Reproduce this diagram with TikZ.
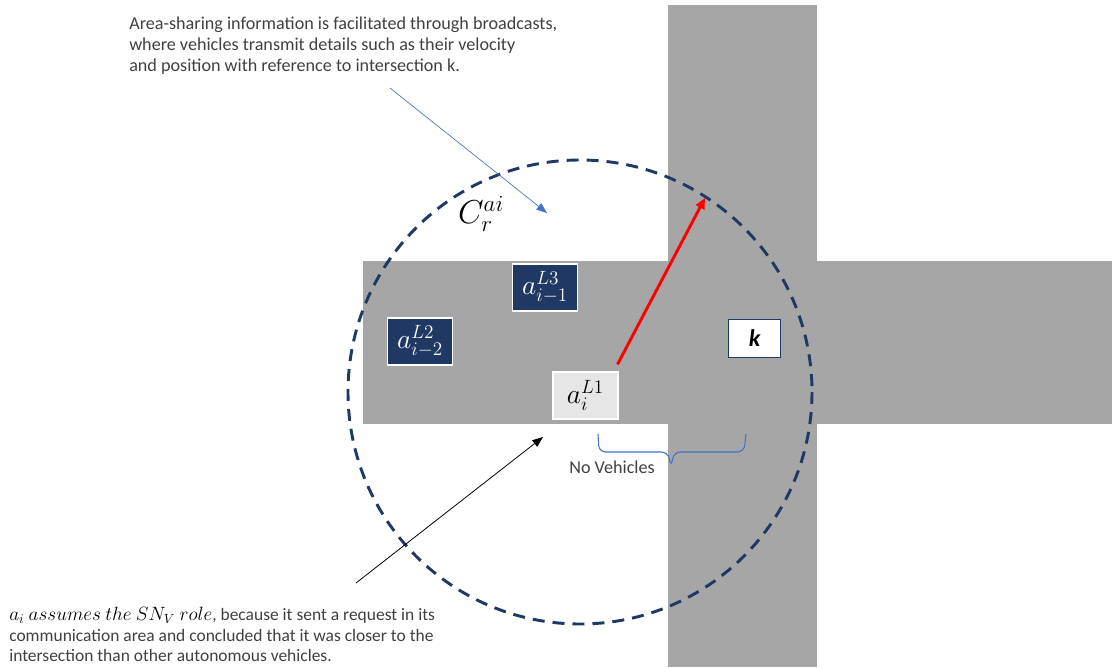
\documentclass[tikz,border=0pt]{standalone}
\usepackage{amsmath}
\usepackage{fontspec}
\setmainfont{Carlito}
\usetikzlibrary{arrows.meta,positioning}
\definecolor{road}{HTML}{A6A6A6}
\definecolor{navy}{HTML}{203864}
\definecolor{ink}{HTML}{404040}
\definecolor{note}{HTML}{4472C4}
\definecolor{pale}{HTML}{E7E6E6}

\tikzset{
  car/.style={draw=white,line width=1.2pt,fill=navy,text=white,inner sep=0pt,
              minimum width=48.5pt,minimum height=35pt,font=\fontsize{20}{24}\selectfont},
  memo/.style={text=ink,align=left,inner sep=0pt,font=\fontsize{13.6}{15.6}\selectfont},
}

\begin{document}
\begin{tikzpicture}[x=0.75pt,y=-0.75pt]
  \useasboundingbox (0,0) rectangle (1112,667);
  % roads
  \fill[road] (668,5) rectangle (817,667);
  \fill[road] (363,261) rectangle (1112,424);
  % communication area
  \draw[navy,line width=2.2pt,dash pattern=on 9pt off 6pt] (580,392) circle[radius=232];
  \node[font=\fontsize{23}{26}\selectfont] (area) at (481,214) {$C_r^{ai}$};

  \node[car] (lthree) at (545,287.5) {$a_{i-1}^{L3}$};
  \node[car] (ltwo) at (420,341.5) {$a_{i-2}^{L2}$};
  \node[car,fill=pale,text=black] (lone) at (585.5,395.5) {$a_{i}^{L1}$};
  \node[draw=navy,line width=0.9pt,fill=white,minimum width=39.5pt,minimum height=29pt,
        inner sep=0pt,font=\fontsize{18}{20}\selectfont\bfseries\itshape] (inter) at (754.5,338.5) {k};

  % radius
  \coordinate (rim) at (705,198);
  \draw[red,line width=2.2pt,-{Triangle[length=8pt,width=7pt]}] ([shift={(32,-7)}]lone.north) -- (rim);

  % no vehicles gap
  \draw[note,line width=0.8pt,rounded corners=5pt]
    (598,434) -- (599,452) -- (668,452) -- (671,467) -- (674,452) -- (744,452) -- (746,434);
  \node[memo] (gap) at (612,467) {No Vehicles};

  % notes
  \node[memo,anchor=north west] (info) at (129,17) {Area-sharing information is facilitated through broadcasts,\\
    where vehicles transmit details such as their velocity\\
    and position with reference to intersection k.};
  \coordinate (infoend) at (547,213);
  \draw[note,line width=0.5pt,-{Triangle[length=8pt,width=6pt]}] (390,88) -- (infoend);

  \node[memo,anchor=north west,font=\fontsize{13.1}{15.4}\selectfont] (role) at (9,607)
    {{\fontsize{14.4}{15.4}\selectfont\color{black}$a_i\ assumes\ the\ SN_V\ role$},
    because it sent a request in its\\
    communication area and concluded that it was closer to the\\
    intersection than other autonomous vehicles.};
  \coordinate (rolehit) at (543,437);
  \draw[black,line width=0.6pt,-{Triangle[length=8pt,width=6pt]}] (356,583) -- (rolehit);
\end{tikzpicture}
\end{document}
